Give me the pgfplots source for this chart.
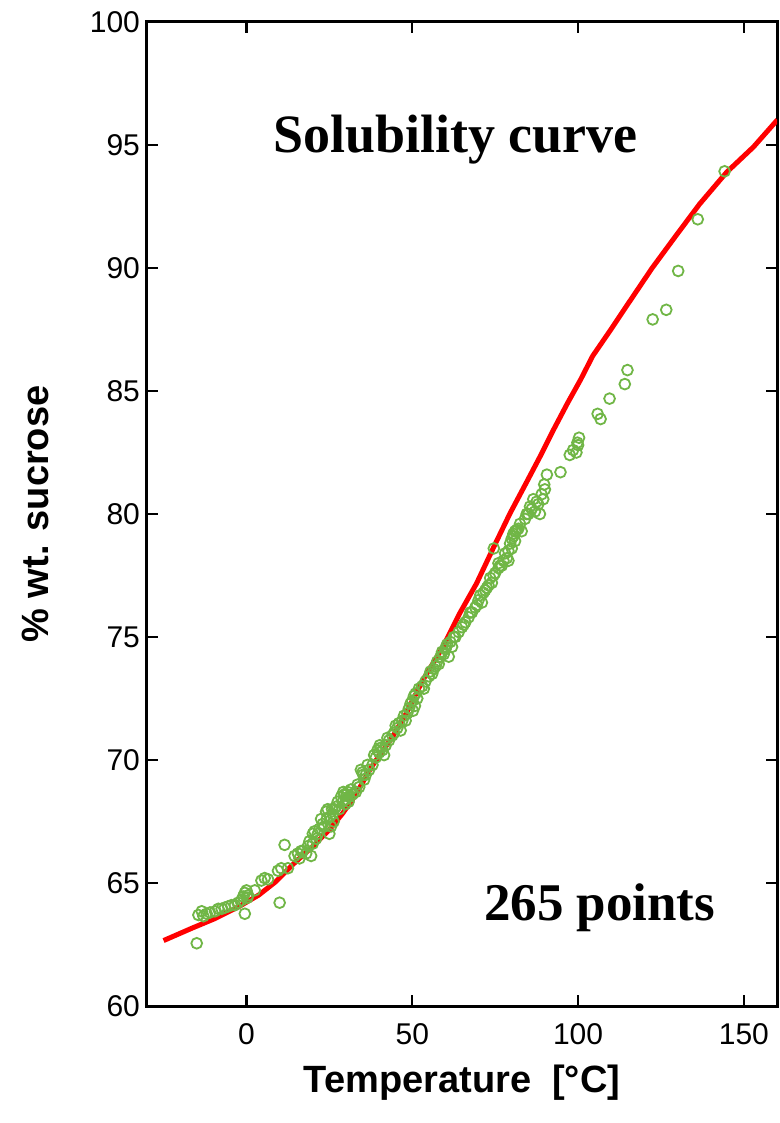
\documentclass[border=0pt]{standalone}
\usepackage{fontspec}
\setmainfont{Liberation Sans}
\newfontfamily\timesfont{Liberation Serif}
\usepackage{pgfplots}
\pgfplotsset{compat=1.18}
\definecolor{ptgreen}{RGB}{112,182,70}
\begin{document}
\begin{tikzpicture}
\useasboundingbox (-73.5pt,-58.5pt) rectangle (316.5pt,503pt);
\begin{axis}[
 scale only axis, width=315pt, height=492pt,
 xmin=-30, xmax=160, ymin=60, ymax=100,
 xtick={0,50,100,150}, ytick={60,65,...,100},
 tick align=inside, major tick length=5.5pt,
 axis line style={line width=1.5pt},
 tick style={line width=1.2pt, black},
 ticklabel style={font=\fontsize{15}{15}\selectfont},
 xticklabel style={yshift=-5pt},
 /pgf/number format/assume math mode=true,
 xlabel={\bfseries Temperature\ \ [°C]},
 ylabel={\bfseries \% wt. sucrose},
 label style={font=\fontsize{19}{19}\selectfont},
 xlabel style={at={(axis description cs:0.5,0)}, anchor=center, yshift=-38.5pt},
 ylabel style={at={(axis description cs:0,0.5)}, anchor=center, yshift=56pt},
 clip=true,
]
\addplot[red, line width=2.5pt] coordinates {
(-25,62.66) (-16.5,63.16) (-9.4,63.56) (-2.3,64.04) (3.7,64.51) (8.8,65.05)
(13.8,65.73) (19.9,66.48) (24.9,67.15) (29.0,67.83) (33,68.6) (37.6,69.7)
(44.1,70.95) (48,71.85) (53.2,73.25) (59.3,74.61) (64.3,75.96) (69.4,77.18)
(74.9,78.75) (79.5,80.03) (84.5,81.3) (88.6,82.35) (92.7,83.45) (96.8,84.5)
(100.8,85.47) (104.4,86.42) (110.0,87.52) (115.1,88.55) (122.3,89.99)
(129.4,91.29) (136.6,92.59) (144.8,93.89) (152.9,94.92) (160.1,96.02)
};
\addplot[only marks, mark=o, mark size=2.7pt, mark options={ptgreen, line width=0.9pt}] coordinates {
(-15.0,62.55) (-14.5,63.70) (-13.5,63.85) (-13.0,63.65) (-12.0,63.75) (-11.0,63.80)
(-9.5,63.85) (-8.5,63.95) (-7.5,63.95) (-6.5,64.0) (-5.5,64.05) (-4.5,64.1)
(-3.5,64.1) (-2.5,64.2) (-1.5,64.3) (-1.0,64.45) (-0.5,64.6) (0,64.7) (0.3,64.4)
(-0.5,63.75) (0.5,64.5) (2.5,64.7) (4.5,65.1) (5.5,65.2) (6.5,65.15) (9.5,65.5)
(10.0,64.2) (10.5,65.6) (11.5,66.55) (12.5,65.6) (14.5,66.1) (15.5,66.2)
(16.5,66.3) (18.0,66.2) (19.5,66.1) (20.0,66.6) (20.0,67.0) (20.5,67.1)
(21.0,66.8) (22.5,67.6) (23.5,67.3) (24.0,67.9) (24.5,68.0) (25.0,67.0)
(25.5,67.3) (26.0,67.8) (26.5,68.0) (27.0,68.1) (28.0,68.0) (29.0,68.3)
(29.5,68.6) (30.0,68.4) (30.5,68.7) (31.0,68.5) (32.0,68.6) (33.0,68.7)
(34.0,68.9) (35.0,69.5) (35.5,69.2) (36.0,69.4) (37.0,69.6) (38.0,69.8)
(39.0,70.1) (40.0,70.3) (40.5,70.5) (41.0,70.4) (42.0,70.6) (43.0,70.8)
(44.5,71.1) (45.5,71.3) (46.0,71.5) (47.0,71.6) (48.5,71.9) (49.0,72.1)
(50.0,72.4) (50.5,72.6) (51.0,72.7) (52.0,72.9) (53.0,73.0) (54.0,73.2)
(55.0,73.4) (56.0,73.5) (57.0,73.8) (57.5,74.0) (58.5,74.2) (59.0,74.4)
(60.0,74.5) (60.5,74.7) (61.0,74.2) (62.0,74.6) (62.5,75.0) (64.0,75.2)
(65.0,75.4) (66.0,75.6) (67.0,75.8) (68.0,76.0) (69.0,76.2) (70.0,76.5)
(70.5,76.7) (71.0,76.4) (72.0,76.9) (73.0,77.1) (73.5,77.4) (74.0,77.2)
(74.6,78.6) (75.0,77.6) (76.0,77.8) (76.5,77.9) (77.5,78.1) (78.5,78.2)
(79.0,78.5) (79.5,78.8) (80.0,79.0) (80.5,79.2) (81.0,78.9) (81.5,79.35)
(82.5,79.6) (83.0,79.3) (84.0,79.8) (85.0,80.0) (85.5,80.3) (86.5,80.6)
(87.0,80.1) (88.0,80.4) (89.5,80.6) (89.8,81.2) (90.0,81.0) (90.6,81.6)
(94.7,81.7) (97.5,82.4) (98.5,82.6) (99.5,82.5) (100.0,82.8) (100.3,83.1)
(99.8,82.9) (105.9,84.07) (106.8,83.86) (109.5,84.69) (114.1,85.28)
(114.9,85.85) (122.5,87.91) (126.6,88.30) (130.2,89.88) (136.1,91.98) (144.2,93.93)
(16,66.0) (17,66.3) (18.5,66.5) (19,66.7) (21.5,67.0) (22,67.2) (23,67.4)
(24.2,67.6) (25.2,67.7) (25.8,68.0) (26.3,67.5) (27.5,68.3) (28.5,68.5)
(29.2,68.7) (29.8,68.2) (30.2,68.6) (30.8,68.3) (31.5,68.8) (33.5,69.0)
(34.5,69.6) (35.2,69.4) (36.5,69.8) (38.5,70.2) (39.5,70.4) (40.2,70.6)
(41.5,70.2) (42.5,70.9) (44,71.0) (45,71.4) (46.5,71.2) (47.5,71.8) (48,71.6)
(49.5,72.3) (50.2,72.0) (50.8,72.2) (51.5,72.5) (53.5,72.9) (55.5,73.6)
(56.5,73.7) (58,73.9) (59.5,74.3) (60.2,74.6) (61.5,74.8) (63,75.0) (65.5,75.5)
(67.5,76.0) (69.5,76.3) (71.5,76.8) (72.5,77.0) (74.5,77.5) (76,78.0) (77,77.9)
(78,78.4) (79,78.1) (80,78.6) (80.5,79.1) (81,79.3) (82,79.4) (84.5,80.0)
(86,80.2) (87.5,80.5) (88.5,80.0) (89,80.8)
};
\node[font=\timesfont\bfseries\fontsize{27}{27}\selectfont, anchor=center] at (axis cs:63,95.2) {Solubility curve};
\node[font=\timesfont\bfseries\fontsize{26.5}{26.5}\selectfont, anchor=center] at (axis cs:106.5,64.0) {265 points};
\end{axis}
\end{tikzpicture}
\end{document}
